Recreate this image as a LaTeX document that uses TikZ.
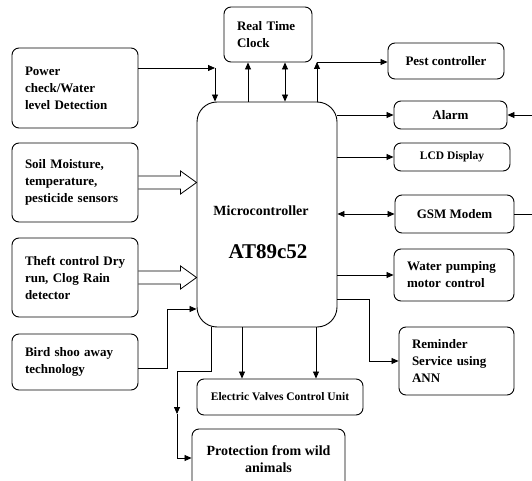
\documentclass[tikz,border=0pt]{standalone}
\usepackage{fontspec}
\setmainfont{Liberation Serif}
\usetikzlibrary{arrows.meta,calc}

\begin{document}
\begin{tikzpicture}[x=1pt,y=-1pt,
  blk/.style={draw, rounded corners=7pt, line width=0.9pt, inner sep=0pt,
    font=\bfseries\fontsize{13}{17}\selectfont},
  lblk/.style={blk, align=left, inner xsep=13pt},
  arr/.style={line width=0.8pt, -{Triangle[length=7pt,width=6pt]}},
  dblarr/.style={line width=0.8pt, {Triangle[length=7pt,width=6pt]}-{Triangle[length=7pt,width=6pt]}},
  fat/.style={line width=0.8pt}]
\useasboundingbox (0,0) rectangle (532,481);
\clip (0,0) rectangle (532,481);

% inputs on the left
\node[lblk, text width=100pt, minimum height=80pt] (power) at (75,88) {Power\\check/Water\\level Detection};
\node[lblk, text width=100pt, minimum height=79pt] (soil) at (75,182.5) {Soil Moisture,\\temperature,\\pesticide sensors};
\node[lblk, text width=100pt, minimum height=79pt] (theft) at (75,277.5) {\mbox{Theft control Dry}\\run, Clog Rain\\detector};
\node[lblk, text width=100pt, minimum height=56pt] (bird) at (75,362) {Bird shoo away\\technology};

% controller
\node[blk, rounded corners=20pt, minimum width=140pt, minimum height=225pt] (main) at (267,214.5) {};
\node[font=\bfseries\fontsize{14}{17}\selectfont] (mcname) at (261,211) {Microcontroller};
\node[font=\bfseries\fontsize{21}{24}\selectfont] (mcchip) at (268,252) {AT89c52};

% top
\node[lblk, text width=62pt, minimum height=55pt] (rtc) at (268,34.5) {Real Time\\Clock};
\node[blk, minimum width=116pt, minimum height=36pt] (pest) at (446,61) {Pest controller};

% outputs on the right
\node[blk, minimum width=113pt, minimum height=28pt] (alarm) at (450.5,115) {Alarm};
\node[blk, minimum width=116pt, minimum height=28pt, font=\bfseries\fontsize{11.5}{14}\selectfont] (lcd) at (452,157) {LCD Display};
\node[blk, minimum width=119pt, minimum height=38pt] (gsm) at (454.5,214) {GSM Modem};
\node[lblk, text width=94pt, minimum height=52pt] (water) at (454,275) {Water pumping\\motor control};
\node[lblk, text width=89pt, minimum height=68pt] (remind) at (456.5,361) {Reminder\\Service using\\ANN};

% bottom
\node[blk, minimum width=166pt, minimum height=36pt, font=\bfseries\fontsize{11.5}{14}\selectfont] (valves) at (280,397) {Electric Valves Control Unit};
\node[blk, align=center, minimum width=153pt, minimum height=61pt, font=\bfseries\fontsize{14}{17}\selectfont] (protect) at (268.5,459.5) {Protection from wild\\animals};

\coordinate (pwbend) at (215,68);
\coordinate (pstbend) at (317,62);
\coordinate (alarmin) at (532,115);
\coordinate (gsmout) at (532,214);
\coordinate (pbend) at (177,414);

\draw[arr] (power.east |- pwbend) -- (pwbend);
\draw[arr] (pwbend) -- (pwbend |- main.north);
\foreach \src in {soil,theft}
  \draw[fat] ($(\src.east)+(0,-6.5)$) -- ($(main.west |- \src.east)+(-16,-6.5)$) -- ++(0,-5)
    -- (main.west |- \src.east) -- ($(main.west |- \src.east)+(-16,11.5)$) -- ++(0,-5)
    -- ($(\src.east)+(0,6.5)$);
\draw[arr] (bird.east |- 0,368) -- (167,368) -- (167,309) -- (main.west |- 0,309);

\draw[arr] (248,0 |- main.north) -- (248,0 |- rtc.south);
\draw[dblarr] (285,0 |- main.north) -- (285,0 |- rtc.south);
\draw[arr] (pstbend |- main.north) -- (pstbend);
\draw[arr] (pstbend) -- (pest.west |- pstbend);

\draw[arr] (main.east |- alarm.west) -- (alarm.west);
\draw[arr] (alarmin) -- (alarm.east);
\draw[arr] (main.east |- lcd.west) -- (lcd.west);
\draw[dblarr] (main.east |- gsm.west) -- (gsm.west);
\draw[fat] (gsm.east) -- (gsmout);
\draw[arr] (main.east |- water.west) -- (water.west);
\draw[arr] (main.east |- 0,299) -- (369,299) -- (369,0 |- remind.west) -- (remind.west);

\draw[arr] (242,0 |- main.south) -- (242,0 |- valves.north);
\draw[arr] (316,0 |- main.south) -- (316,0 |- valves.north);
\draw[arr] (211,0 |- main.south) -- (211,371) -- (pbend |- 0,371) -- (pbend);
\draw[arr] (pbend) -- (pbend |- 0,458) -- (protect.west |- 0,458);
\end{tikzpicture}
\end{document}
